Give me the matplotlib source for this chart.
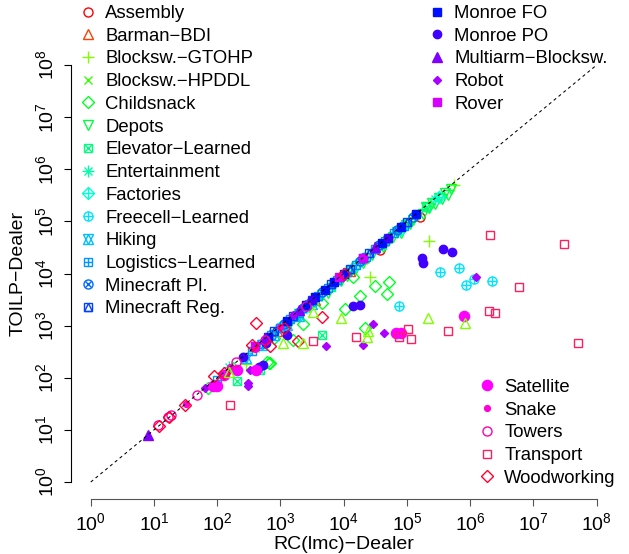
import numpy as np
import matplotlib
matplotlib.use("Agg")
import matplotlib.pyplot as plt
from matplotlib.lines import Line2D
from matplotlib.ticker import NullLocator

plt.rcParams['font.family'] = ['Liberation Sans', 'DejaVu Sans']

# log10 values: x = RC(lmc)-Dealer, y = TOILP-Dealer
assembly_x = [5.21, 4.57, 3.10]
assembly_y = [5.09, 4.46, 3.05]
barman_x = [3.55, 2.95, 4.10]
barman_y = [3.50, 2.90, 4.05]
# light green triangles below the diagonal (no legend entry)
tri_x = [3.96, 5.33, 5.92, 4.38, 4.37, 3.51, 3.04, 3.36, 2.18]
tri_y = [3.14, 3.15, 3.06, 2.90, 2.79, 3.27, 2.66, 2.66, 2.11]
gtohp_x = [5.35, 4.42, 5.75, 2.46, 4.85, 3.25]
gtohp_y = [4.62, 3.93, 5.70, 2.26, 4.80, 3.20]
hpddl_x = [5.00, 4.30, 3.90, 2.60, 4.70]
hpddl_y = [4.97, 4.26, 3.86, 2.57, 4.66]
childsnack_x = [3.36, 3.66, 4.15, 4.26, 4.02, 4.50, 4.71, 4.69, 4.34, 2.78, 2.82, 2.90, 3.20, 2.84, 2.25, 1.85]
childsnack_y = [3.03, 3.43, 3.93, 3.56, 3.31, 3.76, 3.83, 3.60, 2.96, 2.31, 2.29, 2.76, 2.72, 2.28, 2.18, 1.80]
depots_x = [5.70, 5.65, 5.60, 5.55, 5.50, 5.45, 5.40, 5.35, 5.30, 5.25, 5.18, 5.10, 5.05, 4.98, 4.90, 4.85, 4.78,
            4.70, 4.62, 4.55, 4.45, 4.38, 4.30, 4.20, 4.12, 4.05, 3.95, 3.85, 3.75, 3.65, 3.55, 3.45, 3.30, 3.15]
depots_y = [5.62, 5.50, 5.55, 5.42, 5.45, 5.33, 5.35, 5.25, 5.27, 5.15, 5.12, 5.02, 4.95, 4.93, 4.78, 4.80, 4.70,
            4.62, 4.50, 4.50, 4.35, 4.30, 4.20, 4.10, 4.05, 3.95, 3.85, 3.78, 3.62, 3.58, 3.45, 3.35, 3.22, 3.05]
elevator_x = [3.65, 2.32, 2.68, 3.00, 3.80, 4.60, 5.30]
elevator_y = [2.83, 1.94, 2.14, 2.95, 3.75, 4.55, 5.27]
entertainment_x = [2.18, 3.60, 4.30, 5.45]
entertainment_y = [2.21, 3.55, 4.27, 5.42]
factories_x = [5.50, 4.90, 4.20, 3.40]
factories_y = [5.47, 4.85, 4.17, 3.36]
freecell_x = [5.52, 5.82, 6.06, 6.34, 5.94, 4.87, 3.00, 3.30]
freecell_y = [4.02, 4.11, 3.90, 3.86, 3.78, 3.38, 2.97, 3.27]
hiking_x = [2.70, 2.90, 3.10, 3.30, 3.50, 2.45]
hiking_y = [2.63, 2.82, 3.02, 3.18, 3.42, 2.38]
logistics_x = [2.55, 2.70, 2.85, 3.00, 3.15, 3.30, 3.45, 3.60, 3.75, 3.90, 4.05, 4.20, 4.35, 4.50, 4.65, 4.80, 4.95, 2.00]
logistics_y = [2.52, 2.64, 2.82, 2.96, 3.12, 3.25, 3.42, 3.57, 3.72, 3.87, 4.02, 4.17, 4.32, 4.47, 4.62, 4.77, 4.92, 1.96]
mc_pl_x = [3.05, 3.35, 3.65, 3.95, 4.25, 4.55, 4.85, 5.10]
mc_pl_y = [3.04, 3.34, 3.64, 3.94, 4.24, 4.54, 4.84, 5.09]
mc_reg_x = [3.20, 3.50, 3.80, 4.10, 4.40, 4.70, 5.00, 2.90]
mc_reg_y = [3.19, 3.49, 3.79, 4.09, 4.39, 4.69, 4.99, 2.89]
monroe_fo_x = [2.80, 3.10, 3.40, 3.70, 4.00, 4.30, 4.60, 4.90, 5.15, 3.55, 3.85]
monroe_fo_y = [2.79, 3.09, 3.39, 3.69, 3.99, 4.29, 4.59, 4.89, 5.14, 3.54, 3.84]
monroe_po_x = [5.57, 5.71, 5.24, 5.26, 4.14, 4.25, 3.11, 2.66, 2.72, 2.77, 4.70, 3.50, 2.40]
monroe_po_y = [4.47, 4.41, 4.30, 4.21, 3.37, 3.39, 2.82, 2.21, 2.24, 2.66, 4.69, 3.49, 2.40]
multiarm_x = [0.90, 2.76, 4.50, 3.30]
multiarm_y = [0.91, 2.76, 4.50, 3.30]
robot_x = [6.09, 4.46, 4.63, 4.31, 3.72, 2.49, 2.49, 2.52, 1.80, 3.20]
robot_y = [3.94, 3.04, 2.85, 2.62, 2.61, 1.90, 1.84, 2.14, 1.80, 3.20]
rover_x = [3.93, 2.60, 4.30]
rover_y = [3.93, 2.60, 4.30]
satellite_x = [5.90, 4.82, 4.91, 2.32, 2.62, 1.94, 1.99, 2.10]
satellite_y = [3.19, 2.86, 2.86, 2.15, 2.15, 1.84, 1.84, 2.05]
snake_x = [1.50, 2.20, 2.60, 3.00]
snake_y = [1.50, 2.20, 2.56, 2.97]
towers_x = [1.07, 1.22, 1.27, 1.68, 2.30, 2.75, 3.40]
towers_y = [1.09, 1.25, 1.29, 1.67, 2.30, 2.73, 3.38]
transport_x = [6.32, 7.48, 6.77, 6.30, 6.40, 5.65, 4.87, 5.06, 4.19, 7.71, 2.20, 3.51, 5.01]
transport_y = [4.74, 4.56, 3.74, 3.29, 3.24, 2.90, 2.78, 2.74, 2.78, 2.67, 1.48, 2.71, 2.94]
woodworking_x = [2.62, 2.55, 1.95, 1.49, 1.24, 1.08, 3.65, 3.27, 2.83, 3.05, 4.00, 2.10]
woodworking_y = [3.05, 2.62, 2.04, 1.48, 1.24, 1.08, 3.17, 2.71, 2.61, 2.95, 4.00, 2.10]

# name, x, y, colour, marker layers (marker, size, filled) imitating R's pch symbols
series = [
    ("Assembly", assembly_x, assembly_y, "#FF0000", [("o", 6.5, False)]),
    ("Barman\u2212BDI", barman_x, barman_y, "#FF4000", [("^", 7.5, False)]),
    ("Blocksw.\u2212GTOHP", gtohp_x, gtohp_y, "#80FF00", [("+", 9, False)]),
    ("Blocksw.\u2212HPDDL", hpddl_x, hpddl_y, "#33FF00", [("x", 6, False)]),
    ("Childsnack", childsnack_x, childsnack_y, "#00FF22", [("D", 6.3, False)]),
    ("Depots", depots_x, depots_y, "#00FF40", [("v", 7.5, False)]),
    ("Elevator\u2212Learned", elevator_x, elevator_y, "#00FF80", [("s", 6, False), ("x", 6, False)]),
    ("Entertainment", entertainment_x, entertainment_y, "#00FFAA", [("+", 8, False), ("x", 5.7, False)]),
    ("Factories", factories_x, factories_y, "#00FFD5", [("D", 6.3, False), ("+", 9, False)]),
    ("Freecell\u2212Learned", freecell_x, freecell_y, "#00E5FF", [("o", 6.5, False), ("+", 6.5, False)]),
    ("Hiking", hiking_x, hiking_y, "#00BFFF", [("^", 7, False), ("v", 7, False)]),
    ("Logistics\u2212Learned", logistics_x, logistics_y, "#0095FF", [("s", 6, False), ("+", 6, False)]),
    ("Minecraft Pl.", mc_pl_x, mc_pl_y, "#006AFF", [("o", 6.5, False), ("x", 4.6, False)]),
    ("Minecraft Reg.", mc_reg_x, mc_reg_y, "#0040FF", [("s", 6, False), ("^", 6, False)]),
    ("Monroe FO", monroe_fo_x, monroe_fo_y, "#0010FF", [("s", 5.8, True)]),
    ("Monroe PO", monroe_po_x, monroe_po_y, "#4000FF", [("o", 6, True)]),
    ("Multiarm\u2212Blocksw.", multiarm_x, multiarm_y, "#8000FF", [("^", 7, True)]),
    ("Robot", robot_x, robot_y, "#AA00FF", [("D", 3.8, True)]),
    ("Rover", rover_x, rover_y, "#D500FF", [("s", 5.8, True)]),
    ("Satellite", satellite_x, satellite_y, "#FF00FF", [("o", 7.3, True)]),
    ("Snake", snake_x, snake_y, "#FF00D5", [("o", 4.2, True)]),
    ("Towers", towers_x, towers_y, "#FF00B0", [("o", 6.5, False)]),
    ("Transport", transport_x, transport_y, "#FF1E60", [("s", 6, False)]),
    ("Woodworking", woodworking_x, woodworking_y, "#FF0030", [("D", 6.3, False)]),
]

fig = plt.figure(figsize=(6.29, 5.54), dpi=100)
ax = fig.add_axes([0.1121, 0.0998, 0.8687, 0.813])
ax.set_xscale("log")
ax.set_yscale("log")

handles = {}
for name, xs, ys, col, parts in series:
    hs = []
    for m, s, filled in parts:
        ax.plot(np.power(10.0, xs), np.power(10.0, ys), ls="none", marker=m, ms=s, mec=col,
                mfc=col if filled else "none", mew=1.0)
        hs.append(Line2D([], [], ls="none", marker=m, ms=s, mec=col,
                         mfc=col if filled else "none", mew=1.0))
    handles[name] = tuple(hs)

ax.plot(np.power(10.0, tri_x), np.power(10.0, tri_y), ls="none", marker="^", ms=7.5,
        mec="#80FF00", mfc="none", mew=1.0)

ax.plot([1, 1e8], [1, 1e8], color="black", lw=0.75, ls=(0, (3, 3)), zorder=5)

ax.set_xlim(10 ** -0.32, 10 ** 8.32)
ax.set_ylim(10 ** -0.32, 10 ** 8.32)
ax.set_xticks(10.0 ** np.arange(9))
ax.set_yticks(10.0 ** np.arange(9))
ax.xaxis.set_minor_locator(NullLocator())
ax.yaxis.set_minor_locator(NullLocator())
for side in ["top", "right"]:
    ax.spines[side].set_visible(False)
ax.spines["left"].set_bounds(1, 1e8)
ax.spines["bottom"].set_bounds(1, 1e8)
ax.spines["bottom"].set_color("#555555")
ax.tick_params(axis="x", length=5, width=0.8, pad=5, labelsize=14, color="#555555")
ax.tick_params(axis="y", length=5, width=0.8, pad=5, labelsize=14)
plt.setp(ax.get_yticklabels(), rotation=90, va="center")
ax.set_xlabel("RC(lmc)\u2212Dealer", fontsize=14, labelpad=1)
ax.set_ylabel("TOILP\u2212Dealer", fontsize=14, labelpad=6)

names = [s[0] for s in series]
legend_kw = dict(frameon=False, fontsize=13.3, borderpad=0, handlelength=1.0,
                 handletextpad=0.42, labelspacing=0.31, borderaxespad=0)
leg1 = fig.legend([handles[n] for n in names[:14]], names[:14], loc="upper left",
                  bbox_to_anchor=(0.1257, 0.991), **legend_kw)
leg2 = fig.legend([handles[n] for n in names[14:19]], names[14:19], loc="upper left",
                  bbox_to_anchor=(0.6806, 0.991), **legend_kw)
leg3 = fig.legend([handles[n] for n in names[19:]], names[19:], loc="upper left",
                  bbox_to_anchor=(0.760, 0.316), **legend_kw)

fig.savefig("out.png", dpi=100)
